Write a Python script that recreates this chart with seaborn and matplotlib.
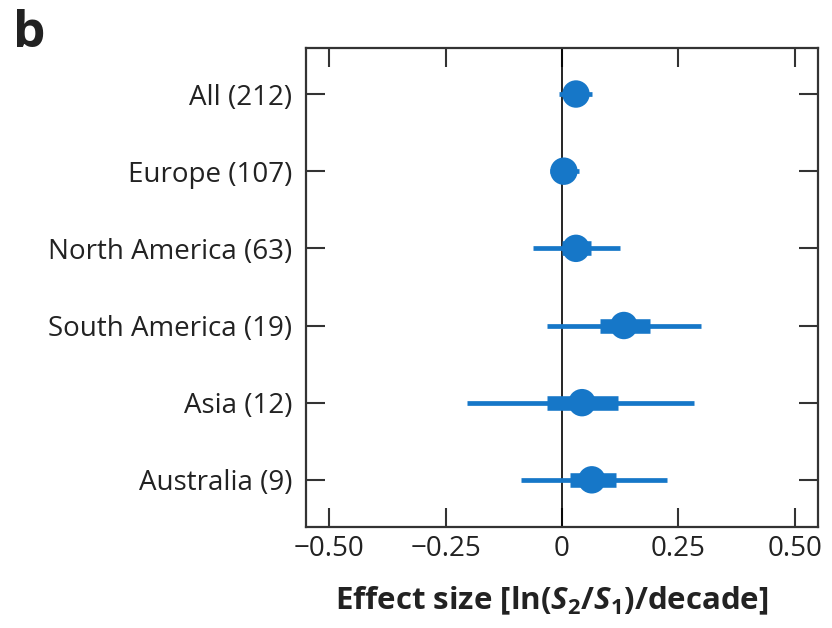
import matplotlib
matplotlib.use("Agg")
import matplotlib.pyplot as plt
import seaborn as sns
import pandas as pd

# Regional effect sizes with 50% (thick) and 95% (thin) intervals
regions = ["All (212)", "Europe (107)", "North America (63)",
           "South America (19)", "Asia (12)", "Australia (9)"]
estimate = [0.030, 0.004, 0.030, 0.133, 0.043, 0.064]
ci95_low = [-0.006, -0.025, -0.062, -0.032, -0.204, -0.088]
ci95_high = [0.064, 0.037, 0.124, 0.298, 0.283, 0.225]
ci50_low = [0.010, -0.010, 0.000, 0.082, -0.032, 0.017]
ci50_high = [0.050, 0.020, 0.062, 0.189, 0.120, 0.116]
xticks = [-0.50, -0.25, 0, 0.25, 0.50]
xticklabels = ["\u22120.50", "\u22120.25", "0", "0.25", "0.50"]

sns.set_style("white")
plt.rcParams["font.family"] = ["Open Sans", "DejaVu Sans"]
plt.rcParams["mathtext.fontset"] = "custom"
plt.rcParams["mathtext.rm"] = "Open Sans:bold"
plt.rcParams["mathtext.bf"] = "Open Sans:bold"
plt.rcParams["mathtext.it"] = "Open Sans:bold:italic"

blue = "#1677c8"
ink = "#333333"

df = pd.DataFrame({"region": regions, "estimate": estimate,
                   "lo95": ci95_low, "hi95": ci95_high,
                   "lo50": ci50_low, "hi50": ci50_high})
df["pos"] = range(len(df))

fig = plt.figure(figsize=(8.32, 6.28), dpi=100)
ax = fig.add_axes([0.368, 0.161, 0.615, 0.763])

ax.axvline(0, color="black", lw=1.2, zorder=1)
ax.hlines(df["pos"], df["lo95"], df["hi95"], color=blue, lw=3.4, zorder=2)
ax.hlines(df["pos"], df["lo50"], df["hi50"], color=blue, lw=10.5, zorder=3)
sns.scatterplot(data=df, x="estimate", y="pos", ax=ax, color=blue, s=390,
                edgecolor="none", zorder=4, legend=False)

ax.set_xlim(-0.55, 0.55)
ax.set_ylim(len(regions) - 1 + 0.61, -0.6)
ax.set_yticks(df["pos"])
ax.set_yticklabels(regions)
ax.set_xticks(xticks)
ax.set_xticklabels(xticklabels)
ax.set_ylabel("")
ax.set_xlabel(r"Effect size [ln($\it{S}_2$/$\it{S}_1$)/decade]",
              fontsize=22.5, fontweight="bold", color="#222222", labelpad=16)
ax.xaxis.set_label_coords(0.48, -0.12)

for s in ax.spines.values():
    s.set_color(ink)
    s.set_linewidth(1.6)
ax.tick_params(axis="both", which="both", direction="in", length=14,
               width=1.5, color=ink, labelsize=20, labelcolor="#222222",
               top=True, right=True, bottom=True, left=True, pad=6)
ax.tick_params(axis="y", pad=10)

fig.text(0.016, 0.985, "b", fontsize=37, fontweight="bold",
         color="#222222", va="top", ha="left")

fig.savefig("out.png", dpi=100)
